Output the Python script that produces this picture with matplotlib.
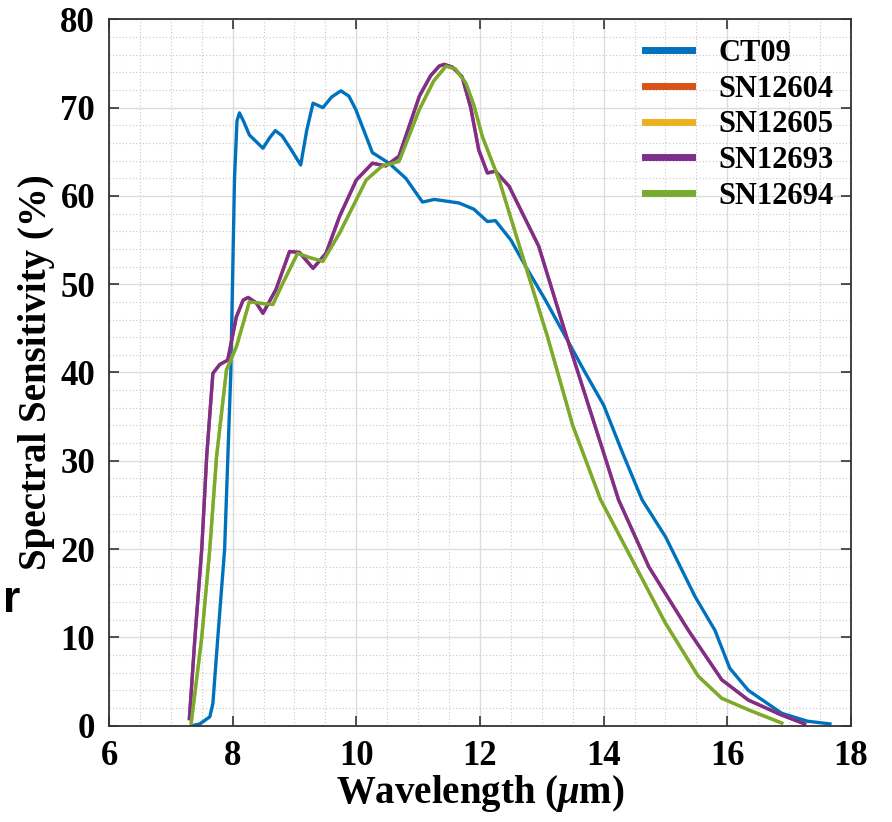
# spectral sensitivity curves of the detectors
import matplotlib.pyplot as plt
from matplotlib.ticker import MultipleLocator

plt.rcParams['font.family'] = ['Liberation Serif', 'DejaVu Serif']
plt.rcParams['font.weight'] = 'bold'
plt.rcParams['mathtext.fontset'] = 'custom'
plt.rcParams['mathtext.rm'] = 'Liberation Serif:bold'
plt.rcParams['mathtext.it'] = 'Liberation Serif:italic:bold'

# values
ct09_x = [7.34, 7.47, 7.63, 7.68, 7.76, 7.87, 7.97, 8.03, 8.07, 8.11, 8.18, 8.27, 8.49,
          8.60, 8.69, 8.80, 8.95, 9.10, 9.20, 9.30, 9.46, 9.60, 9.75, 9.88, 9.99, 10.26,
          10.53, 10.80, 11.07, 11.26, 11.66, 11.90, 12.12, 12.25, 12.50, 12.74, 13.05,
          13.38, 13.70, 14.00, 14.30, 14.62, 15.00, 15.48, 15.80, 16.04, 16.34, 16.88,
          17.30, 17.66]
ct09_y = [0.0, 0.2, 1.0, 2.5, 10.0, 20.0, 40.0, 62.0, 68.5, 69.4, 68.4, 66.9, 65.4,
          66.6, 67.4, 66.8, 65.2, 63.5, 67.5, 70.5, 70.0, 71.2, 71.9, 71.3, 69.8, 64.9,
          63.7, 62.0, 59.3, 59.6, 59.2, 58.5, 57.1, 57.2, 55.0, 52.0, 48.3,
          44.1, 40.0, 36.3, 31.0, 25.6, 21.4, 14.6, 10.8, 6.5, 4.0, 1.4,
          0.5, 0.2]

sn12693_x = [7.30, 7.39, 7.50, 7.58, 7.68, 7.79, 7.92, 8.06, 8.17, 8.25, 8.38, 8.49,
             8.70, 8.92, 9.08, 9.30, 9.51, 9.73, 10.00, 10.26, 10.48, 10.69, 10.85,
             11.02, 11.20, 11.34, 11.42, 11.55, 11.71, 11.85, 11.98, 12.12, 12.25,
             12.47, 12.95, 13.38, 14.00, 14.24, 14.73, 15.37, 15.91, 16.34, 16.88, 17.25]
sn12693_y = [0.8, 10.0, 20.0, 30.5, 39.9, 40.9, 41.4, 46.3, 48.2, 48.5, 47.9, 46.7,
             49.4, 53.7, 53.6, 51.8, 53.5, 57.7, 61.8, 63.7, 63.4, 64.5, 67.8,
             71.3, 73.6, 74.7, 74.9, 74.6, 73.5, 70.0, 65.2, 62.6, 62.8,
             61.1, 54.3, 44.5, 30.9, 25.6, 18.0, 10.8, 5.2, 2.9, 1.2, 0.2]

sn12694_x = [7.33, 7.50, 7.63, 7.74, 7.90, 8.06, 8.27, 8.50, 8.65, 8.81, 9.05, 9.25,
             9.46, 9.73, 10.16, 10.42, 10.69, 11.02, 11.25, 11.45, 11.60, 11.77, 11.90,
             12.04, 12.31, 12.74, 13.09, 13.50, 13.95, 14.46, 15.00, 15.53, 15.91,
             16.34, 16.88]
sn12694_y = [0.3, 10.0, 20.0, 30.5, 40.3, 42.9, 48.0, 47.8, 47.7, 50.1, 53.5, 53.0,
             52.6, 55.8, 61.8, 63.4, 63.9, 69.8, 73.0, 74.7, 74.4, 72.8, 70.3,
             66.7, 61.8, 52.0, 44.1, 34.0, 25.6, 18.8, 11.6, 5.6, 3.1,
             1.8, 0.3]

# SN12604 / SN12605 lie under SN12693 / SN12694 in the figure
sn12604_x, sn12604_y = sn12693_x, sn12693_y
sn12605_x, sn12605_y = sn12694_x, sn12694_y

labels = ["CT09", "SN12604", "SN12605", "SN12693", "SN12694"]
colors = ["#0072BD", "#D95319", "#EDB120", "#7E2F8E", "#77AC30"]

fig = plt.figure(figsize=(8.92, 8.22), dpi=100)
ax = fig.add_axes([0.1222, 0.1172, 0.8318, 0.8593])

series = [(ct09_x, ct09_y), (sn12604_x, sn12604_y), (sn12605_x, sn12605_y),
          (sn12693_x, sn12693_y), (sn12694_x, sn12694_y)]
for (xs, ys), lab, c in zip(series, labels, colors):
    ax.plot(xs, ys, color=c, lw=2.4, label=lab, solid_joinstyle='round')

ax.set_xlim(6, 18)
ax.set_ylim(0, 80)
ax.xaxis.set_major_locator(MultipleLocator(2))
ax.yaxis.set_major_locator(MultipleLocator(10))
ax.xaxis.set_minor_locator(MultipleLocator(0.5))
ax.yaxis.set_minor_locator(MultipleLocator(2))
ax.grid(which='major', color='#dcdcdc', lw=1.0)
ax.grid(which='minor', color='#c8c8c8', lw=0.8, ls=(0, (1, 2)))
ax.set_axisbelow(True)
ax.tick_params(which='major', direction='in', length=7, width=1.2, top=True, right=True,
               labelsize=25, pad=10, color='#333333')
ax.tick_params(which='minor', length=0)
for s in ax.spines.values():
    s.set_color('#333333')
    s.set_linewidth(1.3)

ax.set_xlabel(r'Wavelength ($\mu$m)', fontsize=28, fontweight='bold', labelpad=0)
ax.set_ylabel('Spectral Sensitivity (%)', fontsize=28, fontweight='bold', labelpad=4)

leg = ax.legend(loc='upper left', bbox_to_anchor=(645 / 892, 1 - 39 / 822),
                bbox_transform=fig.transFigure, frameon=False, borderpad=0,
                borderaxespad=0, prop={'size': 22, 'weight': 'bold'},
                handlelength=1.55, handletextpad=0.85, labelspacing=0.22)
for h in leg.get_lines():
    h.set_linewidth(5)

fig.text(0.003, 0.255, 'r', fontsize=32, fontweight='bold', family='Liberation Sans')

plt.savefig("out.png", dpi=100)
plt.close()
